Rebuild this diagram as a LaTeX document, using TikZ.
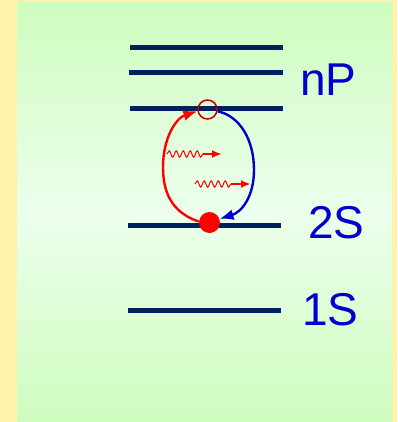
\documentclass[tikz,border=0pt]{standalone}
\usepackage{fontspec}
\setmainfont{Liberation Sans}
\usetikzlibrary{arrows.meta, decorations.pathmorphing}
\definecolor{slideYellow}{RGB}{255,243,170}
\definecolor{panelGreen}{RGB}{206,252,190}
\definecolor{panelPale}{RGB}{236,255,236}
\definecolor{levelNavy}{RGB}{0,32,96}
\definecolor{labelBlue}{RGB}{0,0,204}
\definecolor{holeRed}{RGB}{192,0,0}

\begin{document}
\begin{tikzpicture}[x=1pt, y=-1pt,
    level/.style={draw=levelNavy, line width=5pt},
    term/.style={anchor=west, inner sep=0pt, text=labelBlue, font=\fontsize{46}{46}\selectfont},
    loop/.style={line width=2.4pt, -{Latex[length=14pt,width=11pt]}},
    photon/.style={draw=red, line width=1pt, decorate, decoration={snake, amplitude=3.2pt, segment length=7pt}},
    photonhead/.style={draw=red, line width=2.4pt, -{Latex[length=10pt,width=8pt]}}
]
    \useasboundingbox (0,0) rectangle (397,422);
    \fill[slideYellow] (0,0) rectangle (397,422);
    \shade[top color=panelGreen, bottom color=panelGreen, middle color=panelPale] (17,2) rectangle (392,422);

    % energy levels
    \draw[level] (130,47.7) -- (283,47.7);
    \draw[level] (129,72.7) -- (283,72.7);
    \draw[level] (130,108.3) -- (283,108.3);
    \draw[level] (128,225.3) -- (281,225.3);
    \draw[level] (128,310) -- (281,310);

    \node[term] (np) at (300,80) {nP};
    \node[term] (twos) at (308,223) {2S};
    \node[term] (ones) at (302,310) {1S};

    \node[circle, draw=holeRed, line width=1.5pt, minimum size=19pt, inner sep=0pt] (hole) at (207.5,109.5) {};
    \node[circle, fill=red, minimum size=21pt, inner sep=0pt] (atom) at (209.5,222.5) {};

    \draw[loop, red] (atom.175) .. controls (170,212) and (163,190) .. (163,167)
        .. controls (163,138) and (176,118) .. (hole.190);
    \draw[loop, labelBlue] (hole.-10) .. controls (240,116) and (254,140) .. (254,170)
        .. controls (254,196) and (242,212) .. (atom.20);

    % emitted photons
    \coordinate (phaS) at (167,154);
    \coordinate (phaM) at (203,154);
    \coordinate (phaE) at (222,154);
    \coordinate (phbS) at (195,184);
    \coordinate (phbM) at (231,184);
    \coordinate (phbE) at (251,184);
    \draw[photon] (phaS) -- (phaM);
    \draw[photonhead] (phaM) -- (phaE);
    \draw[photon] (phbS) -- (phbM);
    \draw[photonhead] (phbM) -- (phbE);
\end{tikzpicture}
\end{document}
